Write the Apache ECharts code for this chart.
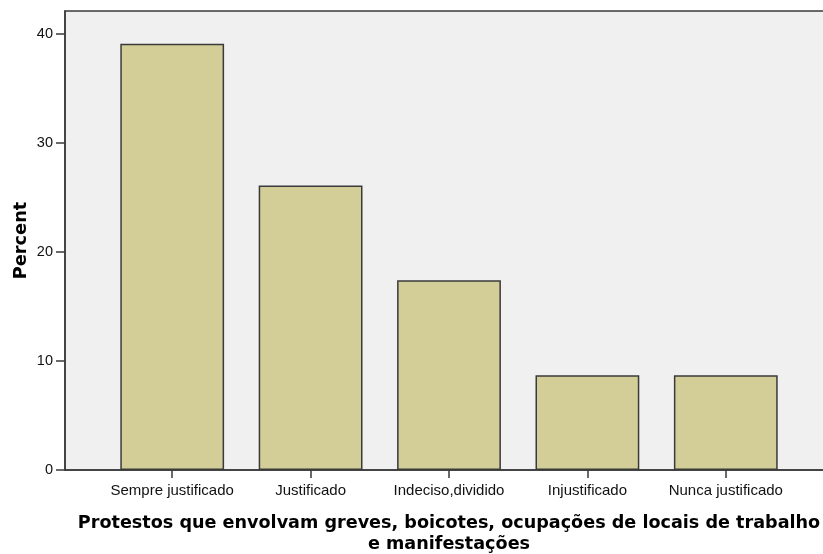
<!DOCTYPE html>
<html><head><meta charset="utf-8">
<script src="https://cdn.jsdelivr.net/npm/echarts@6/dist/echarts.min.js"></script>
<style>html,body{margin:0;padding:0;background:#fff}#c{width:823px;height:554px}</style>
</head><body><div id="c"></div>
<script>
const categories = ['Sempre justificado','Justificado','Indeciso,dividido','Injustificado','Nunca justificado'];
const percentValues = [39.1, 26.1, 17.4, 8.7, 8.7];
const yTicks = [0, 10, 20, 30, 40];
const xTitle = 'Protestos que envolvam greves, boicotes, ocupações de locais de trabalho\ne manifestações';
const yTitle = 'Percent';

const chart = echarts.init(document.getElementById('c'), null, {renderer:'canvas'});
const yMax = 42.1;
chart.setOption({
  animation:false,
  grid:[
    {left:65, top:11, width:790, bottom:84, outerBoundsMode:'none', containLabel:false, show:true, backgroundColor:'#f0f0f0', borderColor:'#3a3a3a', borderWidth:1.5},
    {left:103, top:11, width:692, bottom:84, outerBoundsMode:'none', containLabel:false}
  ],
  xAxis:[
    {gridIndex:0, type:'value', min:0, max:1, axisLine:{show:true,onZero:false,lineStyle:{color:'#3a3a3a',width:1.5}}, axisTick:{show:false}, axisLabel:{show:false}, splitLine:{show:false}},
    {gridIndex:1, type:'category', data:categories, boundaryGap:true,
     axisLine:{show:false}, axisTick:{show:true, alignWithLabel:true, length:8, lineStyle:{color:'#3a3a3a',width:1.5}},
     axisLabel:{margin:13, color:'#111', fontFamily:'Liberation Sans, Arial, sans-serif', fontSize:15, interval:0},
     name:xTitle, nameLocation:'middle', nameGap:43, nameMoveOverlap:false,
     nameTextStyle:{fontFamily:'DejaVu Sans', fontWeight:'bold', fontSize:17.6, color:'#000', lineHeight:21, align:'center'}}
  ],
  yAxis:[
    {gridIndex:0, type:'value', min:0, max:yMax, interval:10,
     axisLine:{show:true, lineStyle:{color:'#3a3a3a',width:1.5}},
     axisTick:{show:true, length:9, customValues:yTicks, lineStyle:{color:'#3a3a3a',width:1.5}},
     axisLabel:{margin:12, color:'#111', fontFamily:'Liberation Sans, Arial, sans-serif', fontSize:14.5,
       customValues:yTicks, formatter:v=> yTicks.includes(v) ? String(v) : ''},
     splitLine:{show:false},
     name:yTitle, nameLocation:'middle', nameGap:35, nameRotate:90, nameMoveOverlap:false,
     nameTextStyle:{fontFamily:'DejaVu Sans', fontWeight:'bold', fontSize:17.8, color:'#000'}},
    {gridIndex:1, type:'value', min:0, max:yMax, interval:10, show:false, splitLine:{show:false}}
  ],
  series:[{
    type:'bar', xAxisIndex:1, yAxisIndex:1, data:percentValues, barWidth:'75%',
    itemStyle:{color:'#d3ce98', borderColor:'#3a3a3a', borderWidth:1.5}
  }]
});
</script></body></html>
